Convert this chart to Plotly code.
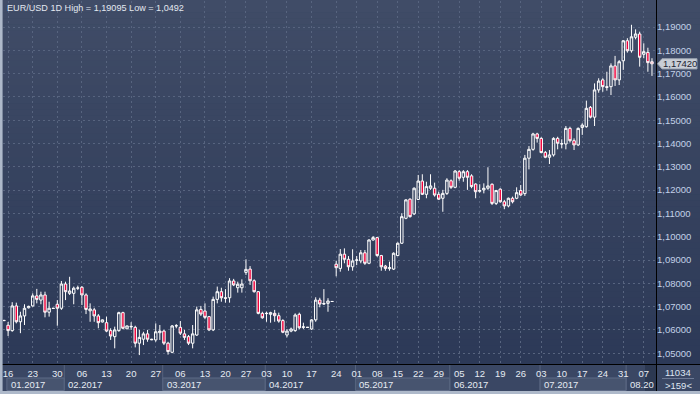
import plotly.graph_objects as go

# ---------------- data (EUR/USD daily) ----------------
open_ = [1.0641, 1.0620, 1.0597, 1.0703, 1.0635, 1.0660, 1.0695, 1.0703, 1.0746, 1.0728,
         1.0750, 1.0676, 1.0693, 1.0710, 1.0693, 1.0797, 1.0757, 1.0757, 1.0779, 1.0783,
         1.0750, 1.0682, 1.0686, 1.0660, 1.0634, 1.0631, 1.0597, 1.0571, 1.0597, 1.0674,
         1.0605, 1.0613, 1.0611, 1.0543, 1.0560, 1.0583, 1.0560, 1.0557, 1.0588, 1.0595,
         1.0543, 1.0504, 1.0617, 1.0611, 1.0583, 1.0571, 1.0543, 1.0578, 1.0688, 1.0681,
         1.0657, 1.0600, 1.0731, 1.0764, 1.0738, 1.0738, 1.0810, 1.0781, 1.0781, 1.0847,
         1.0861, 1.0811, 1.0764, 1.0671, 1.0670, 1.0667, 1.0671, 1.0661, 1.0640, 1.0578,
         1.0595, 1.0597, 1.0667, 1.0611, 1.0611, 1.0604, 1.0643, 1.0728, 1.0711, 1.0714,
         1.0722, 1.0882, 1.0864, 1.0925, 1.0903, 1.0871, 1.0899, 1.0896, 1.0931, 1.0886,
         1.0986, 1.0996, 1.0919, 1.0874, 1.0863, 1.0861, 1.0919, 1.0972, 1.1079, 1.1161,
         1.1098, 1.1160, 1.1239, 1.1182, 1.1208, 1.1208, 1.1182, 1.1165, 1.1186, 1.1240,
         1.1212, 1.1279, 1.1255, 1.1279, 1.1261, 1.1226, 1.1195, 1.1201, 1.1208, 1.1225,
         1.1143, 1.1204, 1.1150, 1.1132, 1.1165, 1.1165, 1.1198, 1.1185, 1.1337, 1.1375,
         1.1441, 1.1422, 1.1362, 1.1341, 1.1351, 1.1422, 1.1398, 1.1398, 1.1465, 1.1412,
         1.1394, 1.1469, 1.1472, 1.1555, 1.1513, 1.1630, 1.1673, 1.1644, 1.1644, 1.1733,
         1.1673, 1.1755, 1.1841, 1.1798, 1.1856, 1.1870, 1.1783, 1.1791, 1.1751]
high = [1.0643, 1.0634, 1.0719, 1.0717, 1.0678, 1.0710, 1.0704, 1.0757, 1.0776, 1.0764,
        1.0764, 1.0721, 1.0695, 1.0728, 1.0810, 1.0807, 1.0828, 1.0786, 1.0790, 1.0788,
        1.0757, 1.0714, 1.0695, 1.0668, 1.0645, 1.0657, 1.0607, 1.0614, 1.0678, 1.0678,
        1.0619, 1.0633, 1.0618, 1.0600, 1.0592, 1.0600, 1.0562, 1.0628, 1.0621, 1.0600,
        1.0549, 1.0621, 1.0625, 1.0638, 1.0600, 1.0578, 1.0621, 1.0700, 1.0703, 1.0714,
        1.0660, 1.0743, 1.0786, 1.0781, 1.0775, 1.0822, 1.0819, 1.0807, 1.0817, 1.0903,
        1.0874, 1.0817, 1.0767, 1.0678, 1.0678, 1.0678, 1.0686, 1.0674, 1.0646, 1.0604,
        1.0610, 1.0671, 1.0674, 1.0631, 1.0612, 1.0646, 1.0740, 1.0738, 1.0775, 1.0736,
        1.0723, 1.0897, 1.0947, 1.0950, 1.0917, 1.0946, 1.0917, 1.0943, 1.0943, 1.0989,
        1.1003, 1.0999, 1.0922, 1.0879, 1.0893, 1.0933, 1.0975, 1.1101, 1.1161, 1.1165,
        1.1212, 1.1265, 1.1268, 1.1236, 1.1268, 1.1232, 1.1193, 1.1201, 1.1251, 1.1246,
        1.1286, 1.1286, 1.1286, 1.1286, 1.1268, 1.1229, 1.1225, 1.1229, 1.1298, 1.1229,
        1.1201, 1.1208, 1.1158, 1.1168, 1.1172, 1.1212, 1.1222, 1.1351, 1.1389, 1.1446,
        1.1446, 1.1427, 1.1368, 1.1372, 1.1427, 1.1429, 1.1418, 1.1475, 1.1472, 1.1422,
        1.1469, 1.1487, 1.1584, 1.1561, 1.1658, 1.1680, 1.1680, 1.1708, 1.1744, 1.1776,
        1.1758, 1.1844, 1.1852, 1.19095, 1.1890, 1.1880, 1.1830, 1.1811, 1.1766]
low = [1.0638, 1.0574, 1.0592, 1.0628, 1.0586, 1.0621, 1.0692, 1.0700, 1.0714, 1.0710,
       1.0654, 1.0657, 1.0690, 1.0618, 1.0686, 1.0728, 1.0750, 1.0710, 1.0771, 1.0707,
       1.0668, 1.0635, 1.0635, 1.0607, 1.0632, 1.0591, 1.0557, 1.0521, 1.0592, 1.0603,
       1.0603, 1.0600, 1.0525, 1.0492, 1.0535, 1.0549, 1.0556, 1.0549, 1.0557, 1.0535,
       1.0494, 1.0500, 1.0607, 1.0578, 1.0557, 1.0535, 1.0521, 1.0574, 1.0660, 1.0646,
       1.0595, 1.0595, 1.0714, 1.0721, 1.0717, 1.0717, 1.0788, 1.0760, 1.0760, 1.0836,
       1.0793, 1.0760, 1.0667, 1.0648, 1.0635, 1.0631, 1.0635, 1.0631, 1.0586, 1.0568,
       1.0590, 1.0592, 1.0603, 1.0604, 1.0610, 1.0600, 1.0635, 1.0697, 1.0707, 1.0678,
       1.0721, 1.0830, 1.0850, 1.0886, 1.0854, 1.0854, 1.0878, 1.0886, 1.0879, 1.0882,
       1.0983, 1.0914, 1.0854, 1.0854, 1.0854, 1.0857, 1.0917, 1.0969, 1.1075, 1.1082,
       1.1093, 1.1158, 1.1179, 1.1165, 1.1201, 1.1172, 1.1158, 1.1107, 1.1179, 1.1205,
       1.1208, 1.1240, 1.1236, 1.1201, 1.1208, 1.1165, 1.1189, 1.1186, 1.1201, 1.1136,
       1.1136, 1.1146, 1.1118, 1.1126, 1.1143, 1.1161, 1.1175, 1.1175, 1.1289, 1.1369,
       1.1404, 1.1358, 1.1337, 1.1312, 1.1344, 1.1375, 1.1379, 1.1375, 1.1404, 1.1372,
       1.1389, 1.1437, 1.1468, 1.1508, 1.1475, 1.1618, 1.1622, 1.1627, 1.1608, 1.1647,
       1.1651, 1.1716, 1.1790, 1.1790, 1.1847, 1.1730, 1.1766, 1.1708, 1.1690]
close = [1.0640, 1.0597, 1.0703, 1.0635, 1.0660, 1.0693, 1.0701, 1.0746, 1.0731, 1.0750,
         1.0676, 1.0693, 1.0692, 1.0693, 1.0797, 1.0764, 1.0767, 1.0779, 1.0780, 1.0750,
         1.0688, 1.0690, 1.0660, 1.0631, 1.0643, 1.0595, 1.0574, 1.0600, 1.0674, 1.0607,
         1.0617, 1.0615, 1.0543, 1.0568, 1.0583, 1.0560, 1.0558, 1.0592, 1.0595, 1.0543,
         1.0507, 1.0617, 1.0618, 1.0586, 1.0568, 1.0543, 1.0583, 1.0686, 1.0668, 1.0654,
         1.0600, 1.0731, 1.0764, 1.0738, 1.0736, 1.0810, 1.0793, 1.0796, 1.0797, 1.0860,
         1.0811, 1.0764, 1.0671, 1.0652, 1.0671, 1.0674, 1.0661, 1.0638, 1.0590, 1.0595,
         1.0604, 1.0664, 1.0609, 1.0613, 1.0611, 1.0643, 1.0728, 1.0711, 1.0713, 1.0724,
         1.0722, 1.0867, 1.0925, 1.0903, 1.0871, 1.0896, 1.0900, 1.0931, 1.0886, 1.0986,
         1.0996, 1.0919, 1.0871, 1.0864, 1.0867, 1.0929, 1.0972, 1.1086, 1.1158, 1.1086,
         1.1208, 1.1239, 1.1182, 1.1215, 1.1218, 1.1179, 1.1161, 1.1186, 1.1243, 1.1212,
         1.1282, 1.1251, 1.1279, 1.1255, 1.1215, 1.1193, 1.1198, 1.1208, 1.1218, 1.1143,
         1.1198, 1.1150, 1.1132, 1.1165, 1.1150, 1.1189, 1.1179, 1.1337, 1.1375, 1.1441,
         1.1422, 1.1361, 1.1341, 1.1351, 1.1422, 1.1401, 1.1399, 1.1465, 1.1412, 1.1394,
         1.1465, 1.1479, 1.1551, 1.1513, 1.1630, 1.1668, 1.1644, 1.1641, 1.1733, 1.1673,
         1.1751, 1.1841, 1.1798, 1.1858, 1.1870, 1.1770, 1.1794, 1.1747, 1.1742]

# time-scale labels (bar number where each label sits) and month bands
tick_bar = [1, 7, 13, 19, 25, 31, 37, 43, 49, 54, 59, 64, 69, 75, 81, 86, 91, 96, 101, 106,
            111, 116, 121, 126, 131, 136, 141, 146, 151, 156]
tick_day = ["16", "23", "30", "06", "13", "20", "27", "06", "13", "20", "27", "03", "10", "17",
            "24", "01", "08", "15", "22", "29", "05", "12", "19", "26", "03", "10", "17", "24",
            "31", "07"]
month_bar = [0, 15, 39, 64, 86, 109, 131, 152]
month_text = ["01.2017", "02.2017", "03.2017", "04.2017", "05.2017", "06.2017", "07.2017", "08.2017"]
price_levels = [1.05, 1.06, 1.07, 1.08, 1.09, 1.10, 1.11, 1.12, 1.13, 1.14, 1.15, 1.16, 1.17, 1.18, 1.19]
last_price = 1.17420
title_text = "EUR/USD 1D High = 1,19095 Low = 1,0492"
volume_text = "11034"
bars_text = ">159<"

# ---------------- layout geometry ----------------
W, H = 700, 394
PL, PR, PT, PB = 3, 656, 1, 364       # plot-area pixel box
XR = [-0.244, 158.98]
YR = [1.04537, 1.20116]
FONT = "Arial, Liberation Sans, sans-serif"


def px_x(px):
    return (px - PL) / (PR - PL)


def px_y(py):
    return (PB - py) / (PB - PT)


def lerp(c1, c2, t):
    return "rgb(%d,%d,%d)" % tuple(round(a + (b - a) * t) for a, b in zip(c1, c2))


shapes = []
# vertical background gradient (chart + price scale)
top_c, bot_c = (64, 76, 103), (44, 57, 87)
NB = 60
for k in range(NB):
    y0 = PB * k / NB
    y1 = PB * (k + 1) / NB + 0.6
    shapes.append(dict(type="rect", xref="paper", yref="paper", layer="below",
                       x0=px_x(0), x1=px_x(W), y0=px_y(y1), y1=px_y(y0),
                       fillcolor=lerp(top_c, bot_c, (k + 0.5) / NB), line=dict(width=0)))
# bottom time-scale bar
shapes.append(dict(type="rect", xref="paper", yref="paper", layer="below",
                   x0=px_x(0), x1=px_x(W), y0=px_y(H), y1=px_y(PB),
                   fillcolor="#3a4764", line=dict(width=0)))
# month boxes (alternate months highlighted)
bounds = [0.7] + [b - 0.3 for b in month_bar[1:]] + [XR[1]]
for i in range(len(month_bar)):
    x0, x1 = bounds[i], bounds[i + 1]
    if i % 2 == 0:
        shapes.append(dict(type="rect", xref="x", yref="paper", layer="below",
                           x0=x0, x1=x1, y0=px_y(390.5), y1=px_y(378),
                           fillcolor="#47546f", line=dict(color="#5d6a86", width=1)))
    if i > 0:
        shapes.append(dict(type="line", xref="x", yref="paper", layer="below",
                           x0=x0, x1=x0, y0=px_y(390.5), y1=px_y(365),
                           line=dict(color="#56637e", width=1)))
# shaded shift zone at right end of time bar
shapes.append(dict(type="rect", xref="paper", yref="paper", layer="below",
                   x0=px_x(645), x1=px_x(656), y0=px_y(391), y1=px_y(365),
                   fillcolor="rgba(20,28,45,0.35)", line=dict(width=0)))
# separator lines
shapes.append(dict(type="line", xref="paper", yref="paper", x0=px_x(0), x1=px_x(W),
                   y0=px_y(364.5), y1=px_y(364.5), line=dict(color="#000000", width=1)))
shapes.append(dict(type="line", xref="paper", yref="paper", x0=px_x(656.5), x1=px_x(656.5),
                   y0=px_y(H), y1=px_y(0), line=dict(color="#000000", width=1)))
# window border (left / bottom)
shapes.append(dict(type="rect", xref="paper", yref="paper", x0=px_x(0), x1=px_x(2.6),
                   y0=px_y(H), y1=px_y(0), fillcolor="#aeb9ca", line=dict(width=0)))
shapes.append(dict(type="rect", xref="paper", yref="paper", x0=px_x(0), x1=px_x(W),
                   y0=px_y(H), y1=px_y(391), fillcolor="#aeb9ca", line=dict(width=0)))
# volume / bars divider line
shapes.append(dict(type="line", xref="paper", yref="paper", x0=px_x(662), x1=px_x(694),
                   y0=px_y(378.5), y1=px_y(378.5), line=dict(color="#6d7a95", width=1)))
# current price tag
tag_h = 0.0022
shapes.append(dict(type="path", xref="paper", yref="y",
                   path="M %f,%f L %f,%f L %f,%f L %f,%f L %f,%f Z" % (
                       px_x(657.5), last_price,
                       px_x(662), last_price + tag_h,
                       px_x(697), last_price + tag_h,
                       px_x(697), last_price - tag_h,
                       px_x(662), last_price - tag_h),
                   fillcolor="#c9ced6", line=dict(color="#9aa3b0", width=1)))

annotations = [
    dict(text=title_text, xref="paper", yref="paper", x=px_x(4.5), y=px_y(8),
         xanchor="left", yanchor="middle", showarrow=False,
         font=dict(family=FONT, size=9.1, color="#e3e8f0")),
    dict(text=("%.5f" % last_price).replace(".", ","), xref="paper", yref="y",
         x=px_x(679.5), y=last_price, xanchor="center", yanchor="middle", showarrow=False,
         font=dict(family=FONT, size=9.5, color="#1d2433")),
    dict(text=volume_text, xref="paper", yref="paper", x=px_x(678), y=px_y(372),
         xanchor="center", yanchor="middle", showarrow=False,
         font=dict(family=FONT, size=9.5, color="#dfe6f2")),
    dict(text=bars_text, xref="paper", yref="paper", x=px_x(678), y=px_y(385.5),
         xanchor="center", yanchor="middle", showarrow=False,
         font=dict(family=FONT, size=9.5, color="#dfe6f2")),
]
for i, (b, t) in enumerate(zip(bounds[:-1], month_text)):
    ann = dict(text=t, xref="x", yref="paper", x=b, y=px_y(384.5),
               xanchor="left", yanchor="middle", xshift=2, showarrow=False,
               align="left", font=dict(family=FONT, size=9.5, color="#e6ebf3"))
    if i == len(month_text) - 1:
        # last month label is cut by the price scale, as in the terminal
        ann["width"] = 24
    annotations.append(ann)

fig = go.Figure(go.Candlestick(
    x=list(range(len(open_))), open=open_, high=high, low=low, close=close,
    increasing=dict(line=dict(color="#ffffff", width=1), fillcolor="rgba(0,0,0,0)"),
    decreasing=dict(line=dict(color="#ffffff", width=1), fillcolor="#f0003a"),
    whiskerwidth=0, hoverinfo="skip", showlegend=False))

grid = "#57647f"
fig.update_layout(
    width=W, height=H, margin=dict(l=PL, r=W - PR, t=PT, b=H - PB, pad=0),
    paper_bgcolor="#2f3c59", plot_bgcolor="rgba(0,0,0,0)",
    boxgap=0.15, showlegend=False,
    shapes=shapes, annotations=annotations,
    xaxis=dict(range=XR, rangeslider=dict(visible=False), showgrid=True, gridcolor=grid,
               griddash="2px,3px", gridwidth=1, zeroline=False, showline=False, ticks="",
               tickvals=tick_bar, ticktext=tick_day, automargin=False, ticklabelstandoff=2,
               tickfont=dict(family=FONT, size=9.5, color="#e6ebf3")),
    yaxis=dict(range=YR, side="right", showgrid=True, gridcolor=grid, griddash="2px,3px",
               gridwidth=1, zeroline=False, showline=False, ticks="", automargin=False,
               tickvals=price_levels,
               ticktext=[("%.5f" % v).replace(".", ",") for v in price_levels],
               tickfont=dict(family=FONT, size=9.5, color="#c3d1e8")),
)

fig.write_html("out.html", config={"displayModeBar": False},
               post_script="document.body.style.margin='0px';"
                           "document.body.style.overflow='hidden';")
